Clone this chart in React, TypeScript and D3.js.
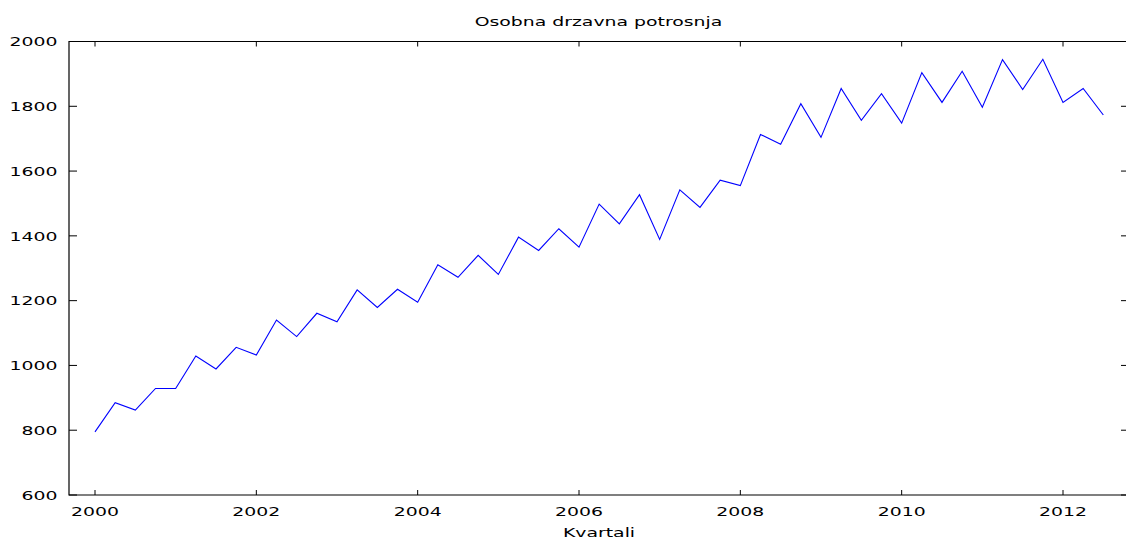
import React from "react";
import * as d3 from "d3";

const title = "Osobna drzavna potrosnja";
const xLabel = "Kvartali";
const startYear = 2000;
// quarterly values, 2000 Q1 .. 2012 Q3
const values = [
  795, 885, 862, 929, 929, 1029, 989, 1056, 1032, 1140, 1089, 1161, 1135,
  1233, 1179, 1235, 1195, 1311, 1272, 1340, 1281, 1396, 1355, 1422, 1365,
  1498, 1437, 1527, 1389, 1542, 1488, 1572, 1555, 1713, 1683, 1808, 1704,
  1855, 1757, 1839, 1748, 1904, 1812, 1908, 1797, 1944, 1852, 1945, 1812,
  1855, 1773,
];
const xTicks = [2000, 2002, 2004, 2006, 2008, 2010, 2012];
const yTicks = [600, 800, 1000, 1200, 1400, 1600, 1800, 2000];

const W = 1126;
const H = 543;
const left = 69;
const right = 1129;
const top = 41.5;
const bottom = 495;
const FONT = "'DejaVu Sans', Verdana, sans-serif";
const SX = 1.45;

export default function App() {
  // x: 2000 -> 95px, 2012 -> 1063px
  const pxPerYear = (1063 - 95) / 12;
  const x = d3
    .scaleLinear()
    .domain([2000 - (95 - left) / pxPerYear, 2000 + (right - 95) / pxPerYear])
    .range([left, right]);
  const y = d3.scaleLinear().domain([600, 2000]).range([bottom, top]);

  const pts = values.map((v, i) => [startYear + i / 4, v] as [number, number]);
  const line = d3
    .line<[number, number]>()
    .x((d) => x(d[0]))
    .y((d) => y(d[1]));

  const tickLenV = 5;
  const tickLenH = 8;

  return (
    <svg
      width={W}
      height={H}
      style={{ position: "absolute", left: 0, top: 0, background: "#fff" }}
      fontFamily={FONT}
      fontSize={13}
    >
      <rect x={0} y={0} width={W} height={H} fill="#fff" />
      {/* border */}
      <path
        d={`M${left},${top}H${right}V${bottom}H${left}Z`}
        fill="none"
        stroke="#000"
        strokeWidth={1.2}
      />
      {/* x ticks */}
      {xTicks.map((t) => (
        <g key={"xt" + t}>
          <line x1={x(t)} x2={x(t)} y1={bottom} y2={bottom - tickLenV} stroke="#000" strokeWidth={1} />
          <line x1={x(t)} x2={x(t)} y1={top} y2={top + tickLenV} stroke="#000" strokeWidth={1} />
          <text
            transform={`translate(${x(t)},${515.5}) scale(${SX},1)`}
            textAnchor="middle"
            fill="#000"
          >
            {t}
          </text>
        </g>
      ))}
      {/* y ticks */}
      {yTicks.map((t) => (
        <g key={"yt" + t}>
          <line x1={left} x2={left + tickLenH} y1={y(t)} y2={y(t)} stroke="#000" strokeWidth={1} />
          <line x1={right} x2={right - tickLenH} y1={y(t)} y2={y(t)} stroke="#000" strokeWidth={1} />
          <text
            transform={`translate(${57.5},${y(t) + 4.7}) scale(${SX},1)`}
            textAnchor="end"
            fill="#000"
          >
            {t}
          </text>
        </g>
      ))}
      {/* data line */}
      <path d={line(pts) || ""} fill="none" stroke="#0000ff" strokeWidth={1.1} />
      {/* title */}
      <text transform={`translate(${598.5},${25.5}) scale(${SX},1)`} textAnchor="middle" fill="#000">
        {title}
      </text>
      {/* x label */}
      <text transform={`translate(${599},${537}) scale(${SX},1)`} textAnchor="middle" fill="#000">
        {xLabel}
      </text>
    </svg>
  );
}
